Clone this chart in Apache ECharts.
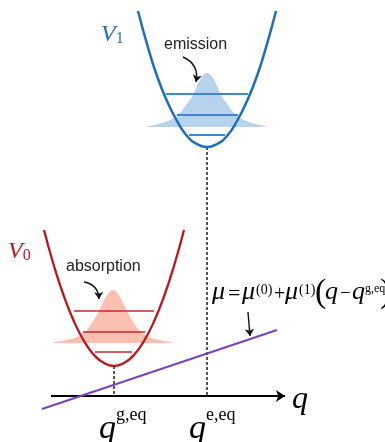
<!DOCTYPE html>
<html><head><meta charset="utf-8">
<script src="https://cdn.jsdelivr.net/npm/echarts@6/dist/echarts.min.js"></script>
<style>html,body{margin:0;padding:0;background:#fff}#c{width:385px;height:442px}</style>
</head><body><div id="c"></div>
<script>
// Coordinates: q (horizontal), E (vertical energy; axis at E = 0)
var qG = 114, qE = 207;
// Ground-state potential V0
var redQ = [44, 54, 64, 74, 84, 94, 104, 114, 124, 134, 144, 154, 164, 174, 184];
var redE = [166, 130, 99.5, 74.5, 55, 41, 33, 30, 33, 41, 55, 74.5, 99.5, 130, 166];
// Excited-state potential V1
var blueQ = [138, 147, 157, 167, 177, 187, 197, 207, 217, 227, 237, 247, 257, 267, 276];
var blueE = [385, 352, 320, 295, 275, 260, 252, 249, 252, 260, 275, 295, 320, 352, 385];
// Absorption band (red) and emission band (blue) profiles
var redGaussQ = [53, 57, 64, 71, 78, 85, 92, 99, 106, 113, 120, 127, 134, 141, 148, 155, 162, 169, 173];
var redGaussE = [53.5, 54.2, 55.5, 57, 59.5, 64, 73, 85, 99, 106, 99, 85, 73, 64, 59.5, 57, 55.5, 54.2, 53.5];
var redGaussBase = 53;
var blueGaussQ = [147, 151, 158, 165, 172, 179, 186, 193, 200, 207, 214, 221, 228, 235, 242, 249, 256, 263, 267];
var blueGaussE = [269.5, 270.2, 272, 274, 277, 282, 291, 301, 316, 323, 316, 301, 291, 282, 277, 274, 272, 270.2, 269.5];
var blueGaussBase = 269;
// Vibrational levels [E, qLeft, qRight]
var redLevels = [[85, 74, 154], [64, 83, 145], [44, 95, 132]];
var blueLevels = [[302, 166, 248], [281, 177, 238], [261, 189, 225]];
// Dipole line mu(q)
var muQ = [42, 277];
var muE = [-13, 66];
// q axis
var axisQ = [51, 285];

function zip(a, b) { return a.map(function (v, i) { return [v, b[i]]; }); }

var BLUE = '#1b6ec2', RED = '#c0141c', PURPLE = '#7b3fbf';
var series = [];
series.push({type: 'line', data: zip(redGaussQ, redGaussE), smooth: 0.45, symbol: 'none',
  lineStyle: {width: 0}, areaStyle: {color: '#fcc0b2', opacity: 1, origin: redGaussBase}, z: 1});
series.push({type: 'line', data: zip(blueGaussQ, blueGaussE), smooth: 0.45, symbol: 'none',
  lineStyle: {width: 0}, areaStyle: {color: '#b6d2ec', opacity: 1, origin: blueGaussBase}, z: 1});
redLevels.forEach(function (l) {
  series.push({type: 'line', data: [[l[1], l[0]], [l[2], l[0]]], symbol: 'none',
    lineStyle: {color: '#c62a2a', width: 1.6}, z: 2});
});
blueLevels.forEach(function (l) {
  series.push({type: 'line', data: [[l[1], l[0]], [l[2], l[0]]], symbol: 'none',
    lineStyle: {color: '#3f86cc', width: 2}, z: 2});
});
series.push({type: 'line', data: [[qG, redE[7]], [qG, 0]], symbol: 'none',
  lineStyle: {color: '#111', width: 1.4, type: [3, 2]}, z: 2});
series.push({type: 'line', data: [[qE, blueE[7]], [qE, 0]], symbol: 'none',
  lineStyle: {color: '#111', width: 1.4, type: [3, 2]}, z: 2});
series.push({type: 'line', data: zip(redQ, redE), smooth: true, symbol: 'none',
  lineStyle: {color: RED, width: 2.3}, z: 3});
series.push({type: 'line', data: zip(blueQ, blueE), smooth: true, symbol: 'none',
  lineStyle: {color: BLUE, width: 2.5}, z: 3});
series.push({type: 'line', data: zip(muQ, muE), symbol: 'none',
  lineStyle: {color: PURPLE, width: 2}, z: 4});
// axis arrow
series.push({type: 'lines', coordinateSystem: 'cartesian2d', symbol: ['none', 'arrow'], symbolSize: 9,
  lineStyle: {color: '#000', width: 2.2, opacity: 1},
  data: [{coords: [[axisQ[0], 0], [axisQ[1], 0]]}], z: 3});
// annotation arrows
series.push({type: 'lines', coordinateSystem: 'cartesian2d', symbol: ['none', 'arrow'], symbolSize: 7,
  lineStyle: {color: '#111', width: 1.4, opacity: 1},
  data: [{coords: [[248, 84], [250, 60]]}], z: 5});
series.push({type: 'lines', coordinateSystem: 'cartesian2d', symbol: ['none', 'arrow'], symbolSize: 7,
  lineStyle: {color: '#111', width: 1.4, opacity: 1, curveness: 0.4},
  data: [{coords: [[183, 339], [196, 314]]}], z: 5});
series.push({type: 'lines', coordinateSystem: 'cartesian2d', symbol: ['none', 'arrow'], symbolSize: 7,
  lineStyle: {color: '#111', width: 1.4, opacity: 1, curveness: 0.4},
  data: [{coords: [[84, 114], [99, 97]]}], z: 5});

var SERIF = '"Liberation Serif","DejaVu Serif",serif';
var SANS = '"Liberation Sans",Arial,sans-serif';
function txt(x, y, text, rich) {
  return {type: 'text', x: x, y: y, z: 10, style: {text: text, rich: rich}};
}
function piece(x, y, text, size, italic, color) {
  return {type: 'text', x: x, y: y, z: 10, style: {text: text, fontFamily: SERIF, fontSize: size,
    fontStyle: italic ? 'italic' : 'normal', fill: color || '#000', verticalAlign: 'top'}};
}
var graphic = [
  txt(101, 19, '{v|V}{s|1}', {v: {fontFamily: SERIF, fontStyle: 'italic', fontSize: 24, fill: BLUE, verticalAlign: 'bottom', lineHeight: 28},
    s: {fontFamily: SERIF, fontSize: 16, fill: BLUE, verticalAlign: 'bottom', lineHeight: 22}}),
  txt(8, 236, '{v|V}{s|0}', {v: {fontFamily: SERIF, fontStyle: 'italic', fontSize: 24, fill: RED, verticalAlign: 'bottom', lineHeight: 28},
    s: {fontFamily: SERIF, fontSize: 16, fill: RED, verticalAlign: 'bottom', lineHeight: 22}}),
  {type: 'text', x: 164, y: 37, z: 10, style: {text: 'emission', fontFamily: SANS, fontSize: 16, fill: '#222'}},
  {type: 'text', x: 66, y: 259, z: 10, style: {text: 'absorption', fontFamily: SANS, fontSize: 16, fill: '#222'}},
  {type: 'text', x: 292, y: 384, z: 10, style: {text: 'q', fontFamily: SERIF, fontStyle: 'italic', fontSize: 32, fill: '#000'}},
  txt(99, 406, '{q|q}{s|g,eq}', {q: {fontFamily: SERIF, fontStyle: 'italic', fontSize: 34, fill: '#000', verticalAlign: 'bottom', lineHeight: 40},
    s: {fontFamily: SERIF, fontSize: 18, fill: '#000', verticalAlign: 'top', lineHeight: 40}}),
  txt(189, 406, '{q|q}{s|e,eq}', {q: {fontFamily: SERIF, fontStyle: 'italic', fontSize: 34, fill: '#000', verticalAlign: 'bottom', lineHeight: 40},
    s: {fontFamily: SERIF, fontSize: 18, fill: '#000', verticalAlign: 'top', lineHeight: 40}}),
  // mu = mu(0) + mu(1) (q - q^{g,eq})
  piece(212, 279, 'μ', 26, true),
  piece(228, 283, '=', 22, false),
  piece(242, 279, 'μ', 26, true),
  piece(256, 283, '(0)', 14, false),
  piece(274, 285, '+', 20, false),
  piece(285, 279, 'μ', 26, true),
  piece(299, 283, '(1)', 14, false),
  piece(315, 276, '(', 34, false),
  piece(325, 279, 'q', 26, true),
  piece(340, 285, '−', 19, false),
  piece(352, 279, 'q', 26, true),
  piece(365, 283, 'g,eq', 12, false),
  piece(380, 276, ')', 34, false)
];

var chart = echarts.init(document.getElementById('c'), null, {renderer: 'canvas'});
chart.setOption({
  animation: false,
  grid: {left: 0, right: 0, top: 0, bottom: 0},
  xAxis: {type: 'value', min: 0, max: 385, show: false},
  yAxis: {type: 'value', min: -46, max: 396, show: false},
  series: series,
  graphic: graphic
});
</script></body></html>
